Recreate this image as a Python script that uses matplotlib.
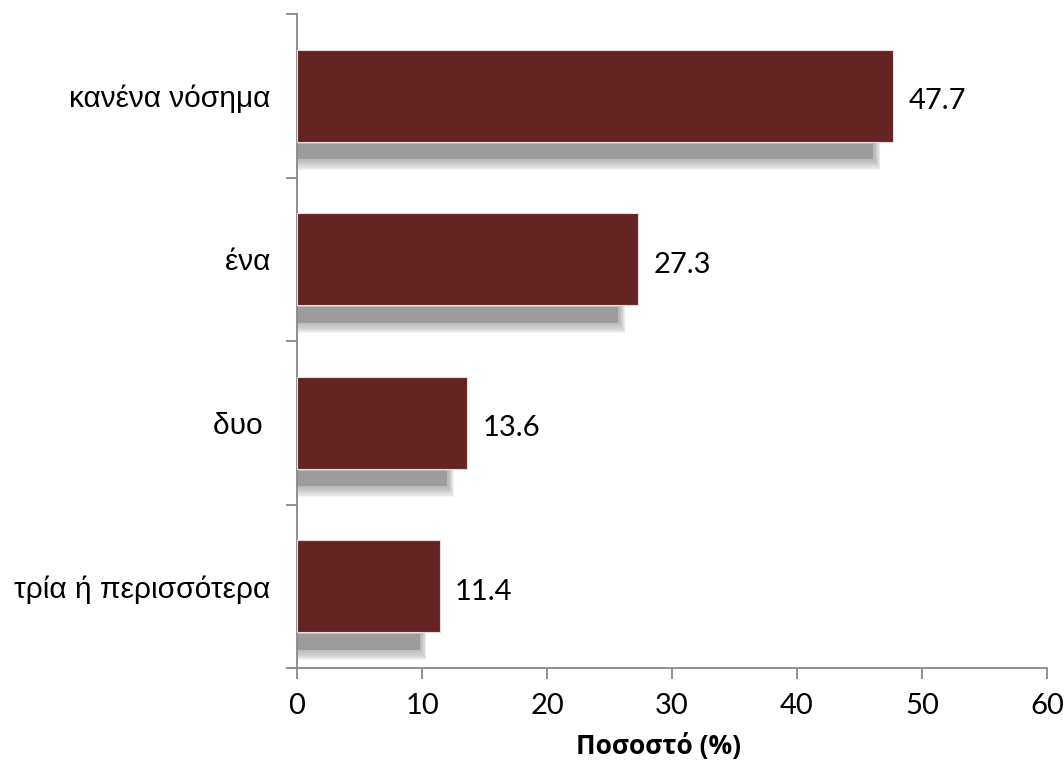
import matplotlib
matplotlib.use("Agg")
import matplotlib.pyplot as plt

# dedomena
kathgories = ["κανένα νόσημα", "ένα", "δυο ", "τρία ή περισσότερα"]
pososta = [47.7, 27.3, 13.6, 11.4]
xticks = [0, 10, 20, 30, 40, 50, 60]

xroma = "#632423"
gkri = "#888888"

fig = plt.figure(figsize=(10.64, 7.6), dpi=100)
ax = fig.add_axes([297 / 1064, 1 - 668 / 760, 750 / 1064, 654 / 760])

thesi = list(range(len(kathgories)))

# skia kato apo kathe bara (theoleni me polla strwmata)
for i, v in zip(thesi, pososta):
    for k in range(10):
        ax.barh(i + 0.34 + k * 0.003, v - 1.5 + k * 0.05, height=0.1 + k * 0.008,
                left=0, color="#9a9a9a", alpha=0.1, linewidth=0, zorder=1)
    ax.barh(i + 0.34, v - 1.6, height=0.095, left=0, color="#9c9c9c",
            linewidth=0, zorder=1)

ax.barh(thesi, pososta, height=0.56, color=xroma, edgecolor="#eadada",
        linewidth=0.8, zorder=3)

for i, v in zip(thesi, pososta):
    ax.annotate(f"{v:.1f}", (v, i), xytext=(11, -4), textcoords="offset points",
                va="center", ha="left", fontsize=21, family=["Lato", "DejaVu Sans"])

ax.set_xlim(0, 60)
ax.set_ylim(len(kathgories) - 0.5, -0.5)
ax.set_xticks(xticks)
ax.set_xticklabels([str(t) for t in xticks], fontsize=21, family=["Lato", "DejaVu Sans"])

ax.set_yticks([i - 0.5 for i in range(len(kathgories) + 1)])
ax.set_yticklabels([])
ax.set_yticks(thesi, minor=True)
ax.set_yticklabels(kathgories, minor=True, fontsize=21.5,
                   family=["Liberation Sans", "DejaVu Sans"])
ax.tick_params(axis="y", which="minor", length=0, pad=19)
ax.tick_params(axis="y", which="major", length=8, color=gkri, width=1.3)
ax.tick_params(axis="x", length=8, color=gkri, width=1.3, pad=10)

for s in ["top", "right"]:
    ax.spines[s].set_visible(False)
for s in ["left", "bottom"]:
    ax.spines[s].set_color(gkri)
    ax.spines[s].set_linewidth(1.3)

ax.set_xlabel("Ποσοστό (%)", fontsize=19, fontweight="bold",
              family=["Open Sans", "DejaVu Sans"])
ax.xaxis.set_label_coords((658 - 297) / 750, -0.1)

fig.savefig("out.png", dpi=100)
